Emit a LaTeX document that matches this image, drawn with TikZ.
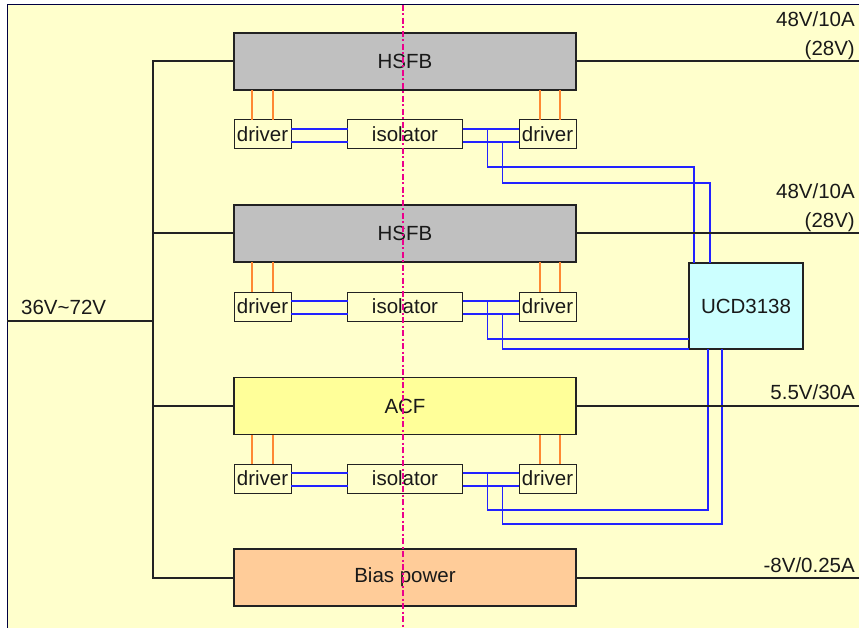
\documentclass[tikz,border=0pt]{standalone}
\usepackage{fontspec}
\setmainfont{Liberation Sans}
\usetikzlibrary{positioning}
\definecolor{PanelYellow}{HTML}{FFFFCC}
\definecolor{PanelEdge}{HTML}{000040}
\definecolor{StageGray}{HTML}{C0C0C0}
\definecolor{StageYellow}{HTML}{FFFF99}
\definecolor{StagePeach}{HTML}{FFCC99}
\definecolor{CtrlCyan}{HTML}{CCFFFF}
\definecolor{GateOrange}{HTML}{FF8833}
\definecolor{SigBlue}{HTML}{2222FF}
\definecolor{WireDark}{HTML}{222222}

\begin{document}
\begin{tikzpicture}[x=1pt, y=-1pt, every node/.style={font=\fontsize{20.5}{24}\selectfont, text=black!90}, stage/.style={draw=WireDark, line width=1.3pt, minimum width=342pt, minimum height=57pt, inner sep=0pt, outer sep=0pt}, drv/.style={draw=WireDark, line width=1pt, fill=PanelYellow, minimum width=57pt, minimum height=29pt, inner sep=0pt, outer sep=0pt}, bus/.style={line width=2pt, color=WireDark}, gate/.style={line width=1.2pt, color=GateOrange}, sig/.style={line width=1.2pt, color=SigBlue}, volt/.style={anchor=base east, inner sep=0pt}]
\useasboundingbox (0,0) rectangle (859,628);
\fill[white] (0,0) rectangle (859,628);
\fill[PanelYellow] (7,5) rectangle (859,628);
\draw[PanelEdge, line width=1pt] (7,628) -- (7,5) -- (859,5);
\coordinate (tap) at (153,0); \coordinate (rim) at (859,0); \coordinate (vin) at (7,320.5);
% power stages
\node[stage, fill=StageGray] (h1) at (405,61.5) {HSFB};
\node[stage, fill=StageGray] (h2) at (405,233.5) {HSFB};
\node[stage, fill=StageYellow] (acf) at (405,406) {ACF};
\node[stage, fill=StagePeach] (bias) at (405,577.5) {Bias power};
\node[draw=WireDark, line width=1.3pt, fill=CtrlCyan, minimum width=114pt, minimum height=86pt, inner sep=0pt, outer sep=0pt] (ucd) at (746,306) {UCD3138};
% drivers and isolators
\node[drv, below right=30pt and 0pt of h1.south west] (l1) {driver};
\node[drv, minimum width=115pt, below=30pt of h1.south] (i1) {isolator};
\node[drv, below left=30pt and 0pt of h1.south east] (r1) {driver};
\node[drv, below right=30pt and 0pt of h2.south west] (l2) {driver};
\node[drv, minimum width=115pt, below=30pt of h2.south] (i2) {isolator};
\node[drv, below left=30pt and 0pt of h2.south east] (r2) {driver};
\node[drv, below right=29.5pt and 0pt of acf.south west] (l3) {driver};
\node[drv, minimum width=115pt, below=29.5pt of acf.south] (i3) {isolator};
\node[drv, below left=29.5pt and 0pt of acf.south east] (r3) {driver};
% gate lines
\draw[gate] ([xshift=18pt]l1.north west) -- ([xshift=18pt]l1.north west |- h1.south); \draw[gate] ([xshift=39pt]l1.north west) -- ([xshift=39pt]l1.north west |- h1.south);
\draw[gate] ([xshift=21pt]r1.north west) -- ([xshift=21pt]r1.north west |- h1.south); \draw[gate] ([xshift=41pt]r1.north west) -- ([xshift=41pt]r1.north west |- h1.south);
\draw[gate] ([xshift=18pt]l2.north west) -- ([xshift=18pt]l2.north west |- h2.south); \draw[gate] ([xshift=39pt]l2.north west) -- ([xshift=39pt]l2.north west |- h2.south);
\draw[gate] ([xshift=21pt]r2.north west) -- ([xshift=21pt]r2.north west |- h2.south); \draw[gate] ([xshift=41pt]r2.north west) -- ([xshift=41pt]r2.north west |- h2.south);
\draw[gate] ([xshift=18pt]l3.north west) -- ([xshift=18pt]l3.north west |- acf.south); \draw[gate] ([xshift=39pt]l3.north west) -- ([xshift=39pt]l3.north west |- acf.south);
\draw[gate] ([xshift=21pt]r3.north west) -- ([xshift=21pt]r3.north west |- acf.south); \draw[gate] ([xshift=41pt]r3.north west) -- ([xshift=41pt]r3.north west |- acf.south);
% signal pairs
\draw[sig] ([yshift=5.5pt]l1.east) -- ([yshift=5.5pt]i1.west); \draw[sig] ([yshift=-7.5pt]l1.east) -- ([yshift=-7.5pt]i1.west);
\draw[sig] ([yshift=5.5pt]i1.east) -- ([yshift=5.5pt]r1.west); \draw[sig] ([yshift=-7.5pt]i1.east) -- ([yshift=-7.5pt]r1.west);
\draw[sig] ([yshift=5.5pt]l2.east) -- ([yshift=5.5pt]i2.west); \draw[sig] ([yshift=-7.5pt]l2.east) -- ([yshift=-7.5pt]i2.west);
\draw[sig] ([yshift=5.5pt]i2.east) -- ([yshift=5.5pt]r2.west); \draw[sig] ([yshift=-7.5pt]i2.east) -- ([yshift=-7.5pt]r2.west);
\draw[sig] ([yshift=5.5pt]l3.east) -- ([yshift=5.5pt]i3.west); \draw[sig] ([yshift=-7.5pt]l3.east) -- ([yshift=-7.5pt]i3.west);
\draw[sig] ([yshift=5.5pt]i3.east) -- ([yshift=5.5pt]r3.west); \draw[sig] ([yshift=-7.5pt]i3.east) -- ([yshift=-7.5pt]r3.west);
% to the controller
\draw[sig] ([xshift=25pt,yshift=5.5pt]i1.east) -- ++(0,38) -| ([xshift=5pt]ucd.north west);
\draw[sig] ([xshift=40pt,yshift=-7.5pt]i1.east) -- ++(0,41) -| ([xshift=21pt]ucd.north west);
\draw[sig] ([xshift=25pt,yshift=5.5pt]i2.east) |- ([yshift=-33pt]ucd.west);
\draw[sig] ([xshift=40pt,yshift=-7.5pt]i2.east) |- (ucd.south west);
\draw[sig] ([xshift=25pt,yshift=5.5pt]i3.east) -- ++(0,37) -| ([xshift=19pt]ucd.south west);
\draw[sig] ([xshift=40pt,yshift=-7.5pt]i3.east) -- ++(0,38) -| ([xshift=33pt]ucd.south west);
% input bus and outputs
\draw[bus] (h1.west) -| (bias.west -| tap) -- (bias.west);
\draw[bus] (h2.west) -- (h2.west -| tap); \draw[bus] (acf.west) -- (acf.west -| tap); \draw[bus] (vin) -- (vin -| tap);
\draw[bus] (h1.east) -- (h1.east -| rim); \draw[bus] (h2.east) -- (h2.east -| rim); \draw[bus] (acf.east) -- (acf.east -| rim); \draw[bus] (bias.east) -- (bias.east -| rim);
\node[anchor=base west, inner sep=0pt] (vinlabel) at (21,314) {36V\textasciitilde72V};
\node[volt] (o1a) at (855,27) {48V/10A};
\node[volt] (o1b) at (855,55.5) {(28V)};
\node[volt] (o2a) at (855,199) {48V/10A};
\node[volt] (o2b) at (855,227.5) {(28V)};
\node[volt] (o3) at (855,399) {5.5V/30A};
\node[volt] (o4) at (855,572) {-8V/0.25A};
% centre line
\draw[magenta, line width=1.2pt, dash pattern=on 6pt off 2.5pt on 2pt off 2.5pt] (403,5) -- (403,628);
\end{tikzpicture}
\end{document}
